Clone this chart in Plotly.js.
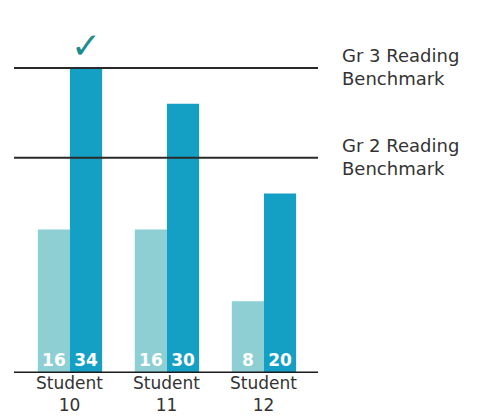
<!DOCTYPE html>
<html>
<head>
<meta charset="utf-8">
<script src="https://cdn.plot.ly/plotly-3.0.1.min.js"></script>
<style>html,body{margin:0;padding:0;background:#fff;}#chart{width:487px;height:416px;}</style>
</head>
<body>
<div id="chart"></div>
<script>
const students = ['Student 10', 'Student 11', 'Student 12'];
const earlierScores = [16, 16, 8];
const laterScores = [34, 30, 20];
const benchmarkNames = ['Gr 3 Reading<br>Benchmark', 'Gr 2 Reading<br>Benchmark'];
const benchmarkValues = [34, 24];
const metStudent = 'Student 10';

const FONT = 'DejaVu Sans, sans-serif';
const LIGHT = '#8ecfd4';
const DARK = '#14a0c4';
const TEXT = '#333333';

const traces = [
  {
    type: 'bar', x: students, y: earlierScores,
    marker: {color: LIGHT},
    text: earlierScores.map(String), textposition: 'inside', insidetextanchor: 'start',
    textfont: {color: '#ffffff', size: 17, family: FONT, weight: 'bold'},
    hoverinfo: 'skip', cliponaxis: false
  },
  {
    type: 'bar', x: students, y: laterScores,
    marker: {color: DARK},
    text: laterScores.map(String), textposition: 'inside', insidetextanchor: 'start',
    textfont: {color: '#ffffff', size: 17, family: FONT, weight: 'bold'},
    hoverinfo: 'skip', cliponaxis: false
  }
];

const shapes = [
  {type: 'line', xref: 'paper', x0: 0, x1: 1, yref: 'y', y0: 0, y1: 0, line: {color: '#1a1a1a', width: 3}}
];
benchmarkValues.forEach(v => shapes.push({
  type: 'line', xref: 'paper', x0: 0, x1: 1, yref: 'y', y0: v, y1: v, line: {color: '#2a2a2a', width: 2}
}));

const annotations = [];
benchmarkValues.forEach((v, i) => {
  annotations.push({
    xref: 'paper', x: 1.072, xanchor: 'left', align: 'left', yref: 'y', y: v, yanchor: 'middle', yshift: 1,
    text: benchmarkNames[i], showarrow: false, font: {family: FONT, size: 18, color: TEXT}
  });
});
// category labels, two lines each, below the axis
students.forEach((s, i) => {
  annotations.push({
    xref: 'x', x: i, yref: 'y', y: 0, yanchor: 'top', yshift: 2,
    text: s.replace(' ', '<br>'), showarrow: false, font: {family: FONT, size: 17, color: TEXT}
  });
});
const metIdx = students.indexOf(metStudent);
annotations.push({
  xref: 'x', x: metIdx, xshift: 16, yref: 'y', y: laterScores[metIdx], yanchor: 'bottom', yshift: 0,
  text: '✓', showarrow: false, font: {family: 'DejaVu Sans', size: 36, color: '#1c8c8f', weight: 'bold'}
});

const layout = {
  width: 487, height: 416,
  margin: {l: 14, r: 169, t: 32, b: 43, pad: 0},
  paper_bgcolor: '#ffffff', plot_bgcolor: '#ffffff',
  showlegend: false,
  barmode: 'group', bargap: 0.337, bargroupgap: 0,
  xaxis: {
    type: 'category', range: [-0.577, 2.557], showgrid: false, zeroline: false, showline: false,
    ticks: '', showticklabels: false, fixedrange: true
  },
  yaxis: {range: [0, 38], visible: false, showgrid: false, zeroline: false, fixedrange: true},
  shapes: shapes,
  annotations: annotations
};

Plotly.newPlot('chart', traces, layout, {displayModeBar: false, staticPlot: true});
</script>
</body>
</html>
